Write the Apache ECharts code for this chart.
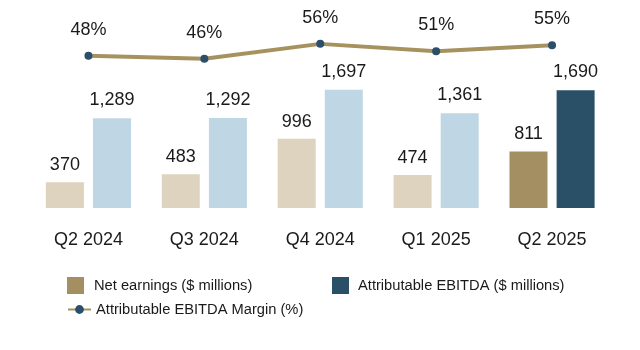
<!DOCTYPE html>
<html>
<head>
<meta charset="utf-8">
<style>
  html, body { margin: 0; padding: 0; background: #fff; }
  #chart { width: 640px; height: 350px; }
</style>
<script src="https://cdn.jsdelivr.net/npm/echarts@6/dist/echarts.min.js"></script>
</head>
<body>
<div id="chart"></div>
<script>
// quarters shown on the x axis
const categories = ['Q2 2024', 'Q3 2024', 'Q4 2024', 'Q1 2025', 'Q2 2025']
// $ millions
const netEarnings = [370, 483, 996, 474, 811]
const ebitda = [1289, 1292, 1697, 1361, 1690]
// percent
const ebitdaMargin = [48, 46, 56, 51, 55]

const current = categories.length - 1  // latest quarter is drawn in the dark colours
const font = 'Liberation Sans, Arial, sans-serif'
const textColor = '#1a1a1a'

function barData (values, light) {
  return values.map((v, i) => i === current ? v : { value: v, itemStyle: { color: light } })
}

const legendText = { fontSize: 14.7, color: textColor, fontFamily: font }

const chart = echarts.init(document.getElementById('chart'))
chart.setOption({
  animation: false,
  textStyle: { fontFamily: font, color: textColor },
  grid: { left: 30.5, right: 30, top: 20, bottom: 142 },
  xAxis: {
    type: 'category',
    data: categories,
    axisLine: { show: false },
    axisTick: { show: false },
    axisLabel: { fontSize: 18, color: textColor, fontFamily: font, margin: 23 }
  },
  yAxis: [
    { type: 'value', min: 0, max: 2700, show: false },
    { type: 'value', min: -54, max: 72, show: false }
  ],
  legend: [
    {
      left: 67, top: 277, padding: 0,
      data: ['Net earnings ($ millions)'],
      icon: 'rect', itemWidth: 17, itemHeight: 17,
      textStyle: Object.assign({ padding: [0, 0, 0, 5] }, legendText)
    },
    {
      left: 332, top: 277, padding: 0,
      data: ['Attributable EBITDA ($ millions)'],
      icon: 'rect', itemWidth: 17, itemHeight: 17,
      textStyle: Object.assign({ padding: [0, 0, 0, 4] }, legendText)
    },
    {
      left: 67, top: 302, padding: 0,
      data: ['Attributable EBITDA Margin (%)'],
      itemWidth: 23, itemHeight: 11,
      textStyle: legendText
    }
  ],
  series: [
    {
      name: 'Net earnings ($ millions)',
      type: 'bar',
      barWidth: 38,
      barGap: '24%',
      itemStyle: { color: '#A38F61' },
      data: barData(netEarnings, '#DDD3BF'),
      label: {
        show: true, position: 'top', distance: 8,
        fontSize: 18, color: textColor, fontFamily: font,
        formatter: p => p.value.toLocaleString('en-US')
      }
    },
    {
      name: 'Attributable EBITDA ($ millions)',
      type: 'bar',
      barWidth: 38,
      barGap: '24%',
      itemStyle: { color: '#2A5068' },
      data: barData(ebitda, '#BFD7E5'),
      label: {
        show: true, position: 'top', distance: 9,
        fontSize: 18, color: textColor, fontFamily: font,
        formatter: p => p.value.toLocaleString('en-US')
      }
    },
    {
      name: 'Attributable EBITDA Margin (%)',
      type: 'line',
      yAxisIndex: 1,
      data: ebitdaMargin,
      symbol: 'circle',
      symbolSize: 8,
      lineStyle: { color: '#A6925F', width: 4 },
      itemStyle: { color: '#2B4F6B' },
      label: {
        show: true, position: 'top', distance: 13,
        fontSize: 18, color: textColor, fontFamily: font,
        formatter: p => p.value + '%'
      },
      z: 5
    }
  ]
})
</script>
</body>
</html>
